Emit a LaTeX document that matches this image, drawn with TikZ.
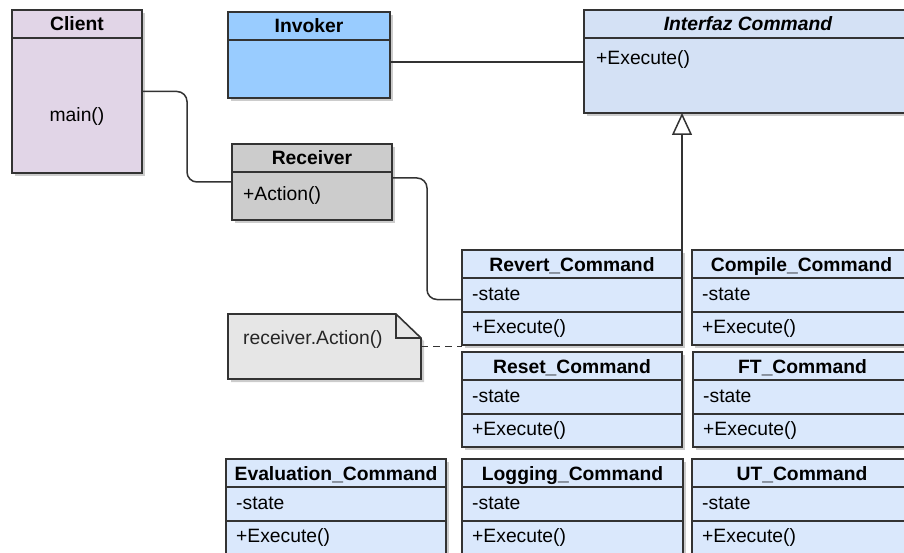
\documentclass[tikz,border=0pt]{standalone}
\usepackage{fontspec}
\setmainfont{Liberation Sans}
\usetikzlibrary{arrows.meta,shadows,calc}

\definecolor{edge}{HTML}{333333}
\definecolor{clientfill}{HTML}{E1D5E7}
\definecolor{invokerfill}{HTML}{99CCFF}
\definecolor{ifacefill}{HTML}{D4E1F5}
\definecolor{receiverfill}{HTML}{CCCCCC}
\definecolor{cmdfill}{HTML}{DAE8FC}
\definecolor{notefill}{HTML}{E6E6E6}

\tikzset{
  box/.style={draw=edge, line width=1.6pt, inner sep=0pt, outer sep=0pt,
    anchor=north west,
    drop shadow={shadow xshift=3pt, shadow yshift=-3pt, fill=black, opacity=0.2}},
  lbl/.style={inner sep=0pt, anchor=base west, font=\fontsize{19.3}{23}\selectfont},
  ttl/.style={inner sep=0pt, anchor=base, font=\fontsize{19.3}{23}\selectfont\bfseries},
  sep/.style={draw=edge, line width=1.6pt},
  conn/.style={draw=edge, line width=1.5pt},
}

% class box with a title bar and a divider at the given offsets
\newcommand\classbox[8]{% name, fill, x1, y1, x2, y2, header offset, divider offset (0 = none)
  \pgfmathsetmacro\cw{#5-#3}%
  \pgfmathsetmacro\ch{#6-#4}%
  \node[box, fill=#2, minimum width=\cw pt, minimum height=\ch pt] (#1) at (#3,#4) {};
  \draw[sep] ([yshift=-#7pt]#1.north west) -- ([yshift=-#7pt]#1.north east);
  \ifnum#8>0
    \draw[sep] ([yshift=-#8pt]#1.north west) -- ([yshift=-#8pt]#1.north east);
  \fi
}

% concrete command class: -state / +Execute()
\newcommand\cmdclass[5]{% name, x1, x2, y1, title
  \pgfmathsetmacro\yb{#4+95}%
  \classbox{#1}{cmdfill}{#2}{#4}{#3}{\yb}{28}{62}
  \node[ttl] (#1-t) at ($(#1.north)+(0,-21pt)$) {#5};
  \node[lbl] (#1-a) at ($(#1.north west)+(10pt,-50pt)$) {-state};
  \node[lbl] (#1-m) at ($(#1.north west)+(10pt,-83pt)$) {+Execute()};
}

\begin{document}
\begin{tikzpicture}[x=1pt, y=-1pt]
  \useasboundingbox (0,0) rectangle (904,553);
  \clip (0,0) rectangle (904,553);
  \fill[white] (0,0) rectangle (904,553);

  % Client
  \classbox{client}{clientfill}{12}{10}{142}{173}{28}{0}
  \node[ttl] (client-t) at ($(client.north)+(0,-20.5pt)$) {Client};
  \node[lbl, anchor=base] (client-m) at (77,122) {main()};

  % Invoker
  \classbox{invoker}{invokerfill}{228}{12}{390}{98}{28}{0}
  \node[ttl] (invoker-t) at ($(invoker.north)+(0,-20.5pt)$) {Invoker};

  % Command interface
  \classbox{iface}{ifacefill}{584}{10}{912}{113}{28}{0}
  \node[ttl, font=\fontsize{19.3}{23}\selectfont\bfseries\itshape] (iface-t)
    at ($(iface.north)+(0,-21pt)$) {Interfaz Command};
  \node[lbl] (iface-m) at (596,64.5) {+Execute()};

  % Receiver
  \classbox{receiver}{receiverfill}{232}{144}{392}{220}{28}{0}
  \node[ttl] (receiver-t) at ($(receiver.north)+(0,-21pt)$) {Receiver};
  \node[lbl] (receiver-m) at (243,201) {+Action()};

  % Concrete commands
  \cmdclass{revert}{462}{682}{250}{Revert\_Command}
  \cmdclass{compile}{692}{911}{250}{Compile\_Command}
  \cmdclass{reset}{462}{682}{352}{Reset\_Command}
  \cmdclass{ft}{693}{912}{352}{FT\_Command}
  \cmdclass{evaluation}{226}{446}{459}{Evaluation\_Command}
  \cmdclass{logging}{462}{683}{459}{Logging\_Command}
  \cmdclass{ut}{692}{912}{459}{UT\_Command}

  % Note attached to Revert_Command
  \node[inner sep=0pt, outer sep=0pt, anchor=north west,
        minimum width=193pt, minimum height=65pt] (note) at (228,314) {};
  \filldraw[draw=edge, fill=notefill, line width=1.6pt, line join=miter,
      drop shadow={shadow xshift=3pt, shadow yshift=-3pt, fill=black, opacity=0.2}]
    (note.north west) -- ([xshift=-25pt]note.north east)
    -- ([yshift=-24pt]note.north east) -- (note.south east)
    -- (note.south west) -- cycle;
  \draw[draw=edge, line width=1.6pt]
    ([xshift=-25pt]note.north east) -- ([xshift=-25pt, yshift=-24pt]note.north east)
    -- ([yshift=-24pt]note.north east);
  \node[lbl, text=black!85] (note-t) at (243,344) {receiver.Action()};

  % Connectors
  \draw[conn, rounded corners=10pt] (client.east)
    -| ($(client.east)!0.5!(receiver.west)$) |- (receiver.west);
  \draw[conn] ([yshift=-7pt]invoker.east) -- ([yshift=-7pt]invoker.east -| iface.west);
  \draw[conn, rounded corners=10pt] ([yshift=4pt]receiver.east)
    -| ($([yshift=4pt]receiver.east)!0.5!([yshift=-2pt]revert.west)$)
    |- ([yshift=-2pt]revert.west);
  \draw[conn, -{Triangle[open, fill=white, length=22pt, width=20pt]}]
    (revert.north east) -- (revert.north east |- iface.south);
  \draw[conn, dash pattern=on 7pt off 5pt] (note.east) -- (note.east -| revert.west);
\end{tikzpicture}
\end{document}
